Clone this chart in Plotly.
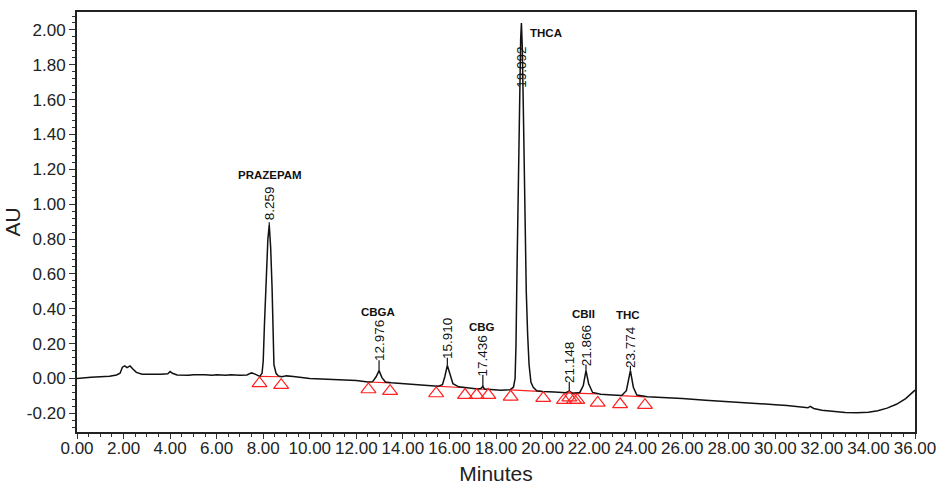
import plotly.graph_objects as go

# Chromatogram trace (minutes, AU)
time_min = [0.0, 0.3, 0.6, 1.0, 1.4, 1.7, 1.85, 1.95, 2.05, 2.15, 2.28, 2.4, 2.55, 2.8, 3.2, 3.6, 3.9,
            4.0, 4.1, 4.3, 4.8, 5.0, 5.5, 5.8, 6.0, 6.4, 6.6, 7.0, 7.3, 7.5, 7.65, 7.8,
            7.85, 7.95, 8.0, 8.05, 8.12, 8.2, 8.259, 8.32, 8.38, 8.42, 8.46, 8.55, 8.65, 8.8,
            9.0, 9.3, 9.6, 10.0, 10.5, 11.0, 11.5, 12.0, 12.5, 12.7, 12.85, 12.976, 13.1, 13.25,
            13.5, 14.0, 14.5, 15.0, 15.5, 15.7, 15.8, 15.91, 16.02, 16.15, 16.4, 16.8, 17.2,
            17.35, 17.436, 17.5, 17.8, 18.2, 18.6, 18.75, 18.82, 18.86, 18.9, 18.95, 19.0, 19.06,
            19.092, 19.13, 19.18, 19.24, 19.3, 19.36, 19.42, 19.5, 19.6, 19.75, 20.0, 20.5, 21.0,
            21.148, 21.3, 21.6, 21.75, 21.866, 21.98, 22.15, 22.5, 23.0, 23.4, 23.6, 23.774, 23.9,
            24.05, 24.5, 25.0, 26.0, 27.0, 28.0, 29.0, 30.0, 30.5, 31.0, 31.4, 31.5, 31.65, 32.0,
            32.5, 33.0, 33.5, 34.0, 34.4, 34.8, 35.2, 35.6, 36.0]
au = [0.000, 0.005, 0.007, 0.010, 0.013, 0.020, 0.030, 0.065, 0.072, 0.062, 0.072, 0.055, 0.035, 0.025, 0.024, 0.025, 0.027,
      0.040, 0.030, 0.020, 0.018, 0.022, 0.022, 0.018, 0.022, 0.018, 0.022, 0.018, 0.020, 0.032, 0.025, 0.012,
      0.012, 0.030, 0.100, 0.300, 0.550, 0.800, 0.880, 0.750, 0.520, 0.250, 0.080, 0.030, 0.015, 0.010,
      0.015, 0.012, 0.005, 0.000, -0.003, -0.006, -0.008, -0.012, -0.020, -0.018, 0.010, 0.045, 0.005, -0.020,
      -0.025, -0.030, -0.033, -0.040, -0.045, -0.035, 0.010, 0.075, 0.020, -0.030, -0.048, -0.055, -0.060,
      -0.058, -0.045, -0.060, -0.065, -0.068, -0.065, -0.050, 0.000, 0.200, 0.600, 1.100, 1.600, 1.950,
      2.040, 1.900, 1.500, 0.950, 0.500, 0.250, 0.080, -0.020, -0.050, -0.070, -0.075, -0.078, -0.082,
      -0.072, -0.085, -0.080, -0.040, 0.045, -0.030, -0.080, -0.090, -0.095, -0.098, -0.070, 0.045, -0.050,
      -0.095, -0.105, -0.108, -0.115, -0.125, -0.132, -0.140, -0.150, -0.155, -0.162, -0.168, -0.160, -0.172, -0.182,
      -0.190, -0.195, -0.196, -0.193, -0.185, -0.170, -0.148, -0.115, -0.067]

# Peak retention-time labels
peak_rt = [8.259, 12.976, 15.910, 17.436, 19.092, 21.148, 21.866, 23.774]
peak_rt_text = ["8.259", "12.976", "15.910", "17.436", "19.092", "21.148", "21.866", "23.774"]
peak_apex = [0.880, 0.045, 0.075, -0.045, 2.040, -0.072, 0.045, 0.045]
rt_label_y = [1.007, 0.215, 0.229, 0.131, 1.786, 0.091, 0.191, 0.183]

# Compound names
compound_names = ["PRAZEPAM", "CBGA", "CBG", "THCA", "CBII", "THC"]
compound_x = [8.31, 12.94, 17.40, 20.14, 21.74, 23.67]
compound_y = [1.170, 0.380, 0.295, 1.983, 0.370, 0.365]

# Integration markers (peak start/end)
mark_t = [7.84, 8.77, 12.52, 13.45, 15.43, 16.67, 17.17, 17.67, 18.63, 20.03,
          20.92, 21.15, 21.35, 21.49, 22.37, 23.33, 24.40]
mark_y = [-0.028, -0.038, -0.063, -0.073, -0.086, -0.095, -0.095, -0.095, -0.105, -0.113,
          -0.124, -0.110, -0.124, -0.124, -0.140, -0.148, -0.153]

# Drawn baselines under peaks (start, end, level start, level end)
base_start = [7.84, 12.52, 15.43, 17.17, 18.63, 20.92, 23.33]
base_end = [8.77, 13.45, 16.67, 17.67, 20.03, 22.37, 24.40]
base_y0 = [0.012, -0.020, -0.044, -0.060, -0.065, -0.082, -0.098]
base_y1 = [0.010, -0.025, -0.053, -0.063, -0.075, -0.088, -0.105]

x_ticks = list(range(0, 37, 2))
y_ticks = [-0.2, 0.0, 0.2, 0.4, 0.6, 0.8, 1.0, 1.2, 1.4, 1.6, 1.8, 2.0]

fig = go.Figure()

# red baselines
bx, by = [], []
for s, e, y0, y1 in zip(base_start, base_end, base_y0, base_y1):
    bx += [s, e, None]
    by += [y0, y1, None]
fig.add_trace(go.Scatter(x=bx, y=by, mode="lines", line=dict(color="#ff2020", width=1.2),
                         hoverinfo="skip", showlegend=False))

fig.add_trace(go.Scatter(x=time_min, y=au, mode="lines", line=dict(color="#111111", width=1.5),
                         showlegend=False))

fig.add_trace(go.Scatter(x=mark_t, y=mark_y, mode="markers",
                         marker=dict(symbol="triangle-up-open", size=13, color="#ff2020",
                                     line=dict(width=1.2, color="#ff2020")),
                         showlegend=False))

# leader lines from peak apex to label
lx, ly = [], []
for t, a, ly_c in zip(peak_rt, peak_apex, rt_label_y):
    top = ly_c - 0.11
    if top > a + 0.01:
        lx += [t, t, None]
        ly += [a, top, None]
fig.add_trace(go.Scatter(x=lx, y=ly, mode="lines", line=dict(color="#111111", width=1.2),
                         hoverinfo="skip", showlegend=False))

for t, txt, yc in zip(peak_rt, peak_rt_text, rt_label_y):
    fig.add_annotation(x=t, y=yc, text=txt, textangle=-90, showarrow=False,
                       xanchor="center", yanchor="middle",
                       font=dict(family="Arial, Liberation Sans", size=13.5, color="#111111"),
                       bgcolor="rgba(0,0,0,0)")

for name, cx, cy in zip(compound_names, compound_x, compound_y):
    fig.add_annotation(x=cx, y=cy, text="<b>" + name + "</b>", showarrow=False,
                       xanchor="center", yanchor="middle",
                       font=dict(family="Arial, Liberation Sans", size=11.5, color="#111111"))

fig.update_xaxes(range=[0, 36], tickvals=x_ticks, ticktext=[f"{v:.2f}" for v in x_ticks],
                 automargin=False,
                 ticks="outside", ticklen=5, tickwidth=1.3, tickcolor="#333",
                 ticklabelstandoff=-5,
                 minor=dict(dtick=0.5, ticks="outside", ticklen=3, tickcolor="#333"),
                 showline=True, linecolor="#222", linewidth=2, mirror=True,
                 showgrid=False, zeroline=False,
                 tickfont=dict(family="Arial, Liberation Sans", size=17, color="#222"),
                 title=dict(text="Minutes", font=dict(family="Arial, Liberation Sans", size=21, color="#222"),
                            standoff=18))
fig.update_yaxes(range=[-0.307, 2.103], tickvals=y_ticks, ticktext=[f"{v:.2f}" for v in y_ticks],
                 automargin=False,
                 ticks="outside", ticklen=6, tickwidth=1.3, tickcolor="#333",
                 minor=dict(dtick=0.04, tick0=0, ticks="outside", ticklen=3, tickcolor="#333"),
                 showline=True, linecolor="#222", linewidth=2, mirror=True,
                 showgrid=False, zeroline=False,
                 tickfont=dict(family="Arial, Liberation Sans", size=17, color="#222"),
                 title=dict(text="AU", font=dict(family="Arial, Liberation Sans", size=21, color="#222"),
                            standoff=0))

fig.update_layout(width=937, height=485, margin=dict(l=77, r=22, t=12, b=53),
                  plot_bgcolor="white", paper_bgcolor="white", showlegend=False)

fig.write_html("out.html", config={"displayModeBar": False},
               post_script="document.body.style.margin='0';document.body.style.overflow='hidden';")
